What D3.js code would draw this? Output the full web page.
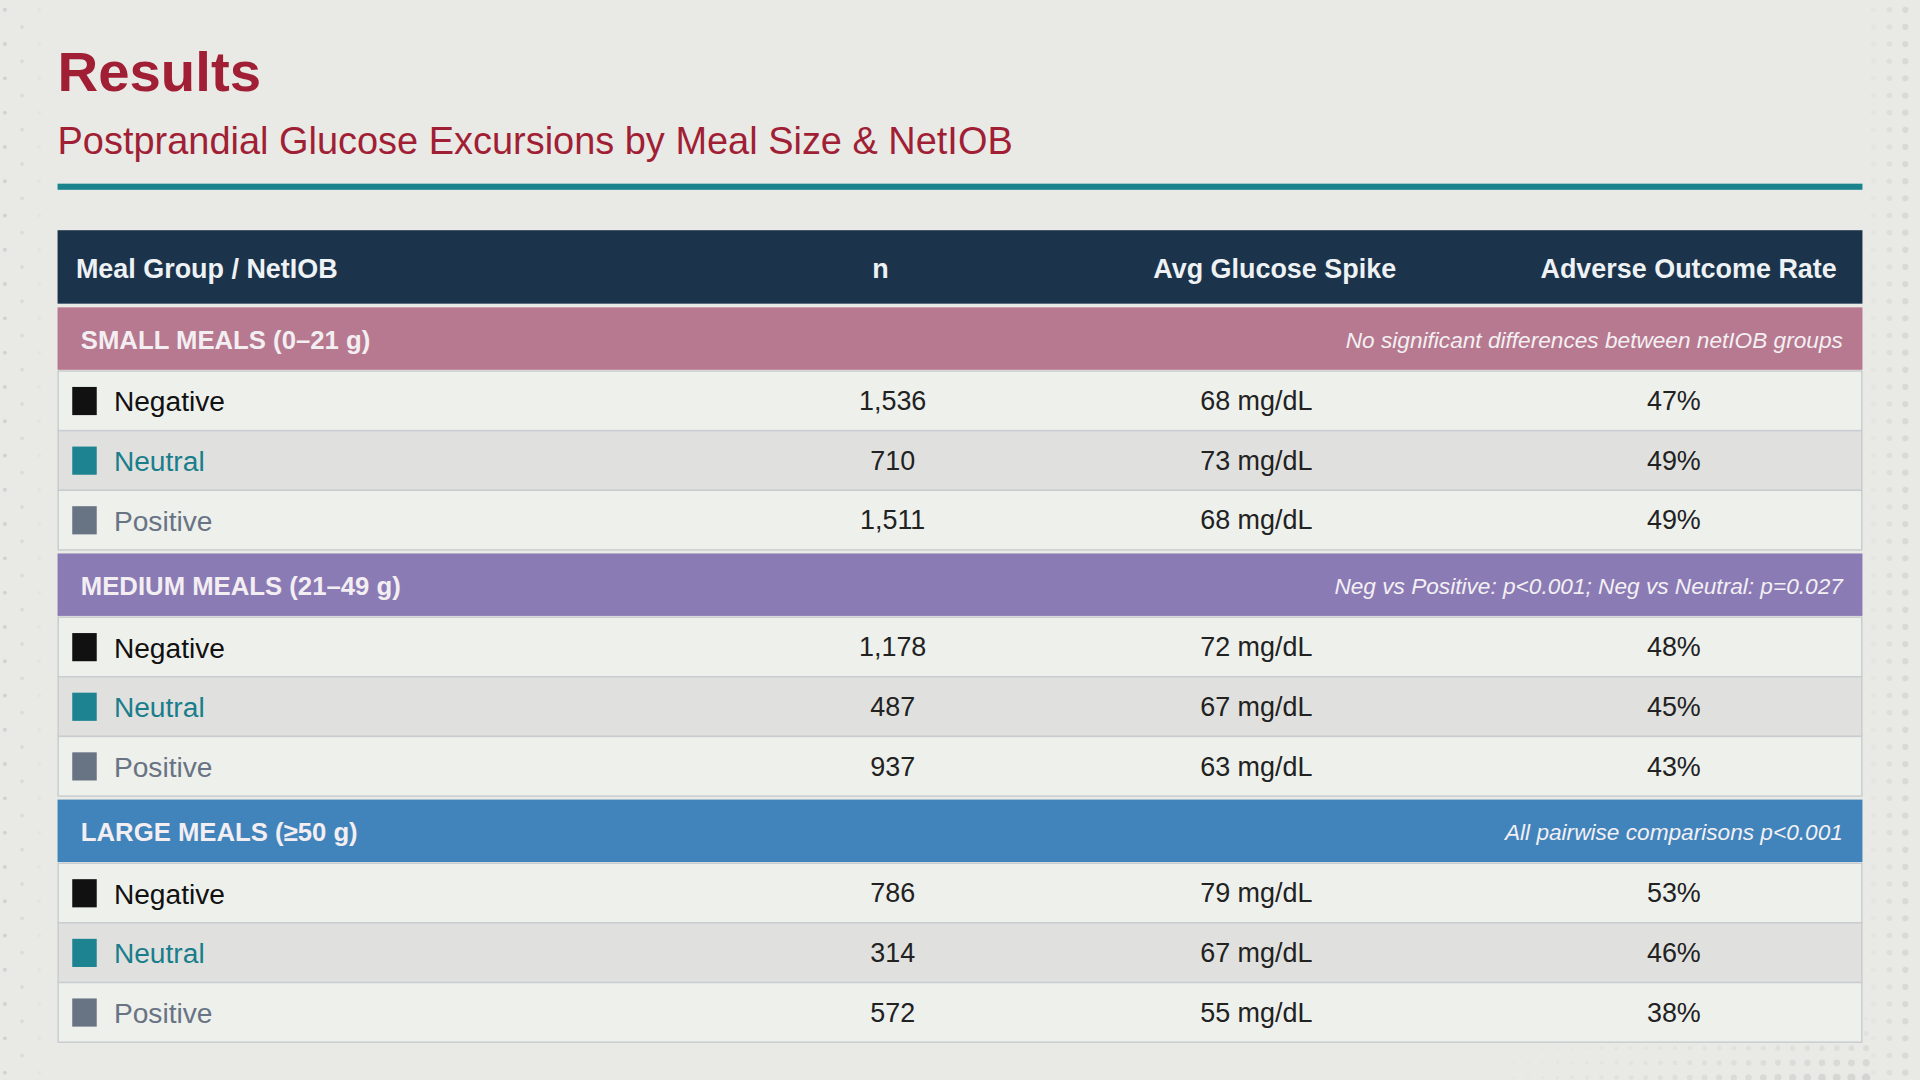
<!DOCTYPE html>
<html lang="en">
<head>
<meta charset="UTF-8">
<title>Results</title>
<script src="https://d3js.org/d3.v7.min.js"></script>
<style>
  html, body { margin: 0; padding: 0; background: #e9eae6; }
  svg { display: block; font-family: "Liberation Sans", Arial, sans-serif; }
</style>
</head>
<body>
<svg></svg>
<script>
    // data
    let groups = ["SMALL MEALS  (0\u201321 g)", "MEDIUM MEALS  (21\u201349 g)", "LARGE MEALS  (\u226550 g)"];
    let groupNotes = ["No significant differences between netIOB groups",
                      "Neg vs Positive: p<0.001; Neg vs Neutral: p=0.027",
                      "All pairwise comparisons p<0.001"];
    let groupColors = ["#b7798f", "#8b7bb5", "#4183bb"];
    let netiob = ["Negative", "Neutral", "Positive"];
    let netiobColors = ["#111111", "#1d8391", "#687384"];
    let netiobText = ["#111111", "#1a7d8c", "#687384"];
    let nValues = [[1536, 710, 1511], [1178, 487, 937], [786, 314, 572]];
    let spikes = [[68, 73, 68], [72, 67, 63], [79, 67, 55]];
    let adverse = [[47, 49, 49], [48, 45, 43], [53, 46, 38]];
    let headers = ["Meal Group / NetIOB", "n", "Avg Glucose Spike", "Adverse Outcome Rate"];

    let W = 1568, H = 882;
    let svg = d3.select("svg")
        .attr("width", 1920).attr("height", 1080)
        .attr("viewBox", "0 0 " + W + " " + H);

    svg.append("rect").attr("width", W).attr("height", H).attr("fill", "#e9eae6");

    // dotted decoration on edges
    let dots = svg.append("g").attr("fill", "#c9cbc7");
    for (let y = 8; y < H; y += 14) {
        for (let x = 4; x < 40; x += 14) {
            let o = 1 - x / 40;
            if ((x + y) % 28 < 14) dots.append("circle").attr("cx", x).attr("cy", y).attr("r", 1.6).attr("opacity", o * 0.8);
        }
        for (let x = 1530; x < W; x += 13) {
            let o = (x - 1520) / 48;
            dots.append("circle").attr("cx", x).attr("cy", y).attr("r", 1.8 + o).attr("opacity", o * 0.7);
        }
    }
    for (let y = 820; y < H; y += 12) {
        for (let x = 1200; x < 1530; x += 12) {
            let o = ((x - 1200) / 330) * ((y - 820) / 62);
            dots.append("circle").attr("cx", x).attr("cy", y).attr("r", 1 + 2.5 * o).attr("opacity", o * 0.7);
        }
    }

    // titles
    svg.append("text").attr("x", 47).attr("y", 74).text("Results")
        .attr("font-size", 46).attr("font-weight", "bold").attr("fill", "#a11f35");
    svg.append("text").attr("x", 47).attr("y", 126).text("Postprandial Glucose Excursions by Meal Size & NetIOB")
        .attr("font-size", 31).attr("fill", "#a11f35");
    svg.append("rect").attr("x", 47).attr("y", 150).attr("width", 1474).attr("height", 5).attr("fill", "#1a838c");

    let x0 = 47, x1 = 1521;
    let colX = [62, 719, 1041, 1500];
    let valX = [null, 729, 1026, 1367];

    // header
    svg.append("rect").attr("x", x0).attr("y", 188).attr("width", x1 - x0).attr("height", 60).attr("fill", "#1b344c");
    svg.selectAll(".hdr").data(headers).enter().append("text")
        .attr("x", (d, i) => colX[i]).attr("y", 227)
        .attr("text-anchor", (d, i) => i == 0 ? "start" : (i == 3 ? "end" : "middle"))
        .attr("font-size", 22).attr("font-weight", "bold").attr("fill", "#eef2f4")
        .text(d => d);

    let fmt = d3.format(",");
    let groupY = d3.scaleLinear().domain([0, 1]).range([251, 452]);
    let rowH = 48.7;

    groups.forEach((g, gi) => {
        let gy = groupY(gi);
        svg.append("rect").attr("x", x0).attr("y", gy).attr("width", x1 - x0).attr("height", 51).attr("fill", groupColors[gi]);
        svg.append("text").attr("x", 66).attr("y", gy + 34).text(g)
            .attr("font-size", 21).attr("font-weight", "bold").attr("fill", "#f3eef2");
        svg.append("text").attr("x", 1505).attr("y", gy + 33).text(groupNotes[gi])
            .attr("text-anchor", "end").attr("font-size", 18.5).attr("font-style", "italic").attr("fill", "#f3f0f3");

        netiob.forEach((lab, ri) => {
            let ry = gy + 52 + ri * rowH;
            svg.append("rect").attr("x", x0 + 0.5).attr("y", ry).attr("width", x1 - x0 - 1).attr("height", rowH)
                .attr("fill", ri == 1 ? "#e0e1de" : "#eef0ec").attr("stroke", "#c9ccd0").attr("stroke-width", 1.2);
            svg.append("rect").attr("x", 59).attr("y", ry + 13).attr("width", 20).attr("height", 23).attr("fill", netiobColors[ri]);
            svg.append("text").attr("x", 93).attr("y", ry + 33).text(lab)
                .attr("font-size", 23).attr("fill", netiobText[ri]);
            let vals = [fmt(nValues[gi][ri]), spikes[gi][ri] + " mg/dL", adverse[gi][ri] + "%"];
            vals.forEach((v, vi) => {
                svg.append("text").attr("x", valX[vi + 1]).attr("y", ry + 32).text(v)
                    .attr("text-anchor", "middle").attr("font-size", 22).attr("fill", "#222");
            });
        });
    });
</script>
</body>
</html>
